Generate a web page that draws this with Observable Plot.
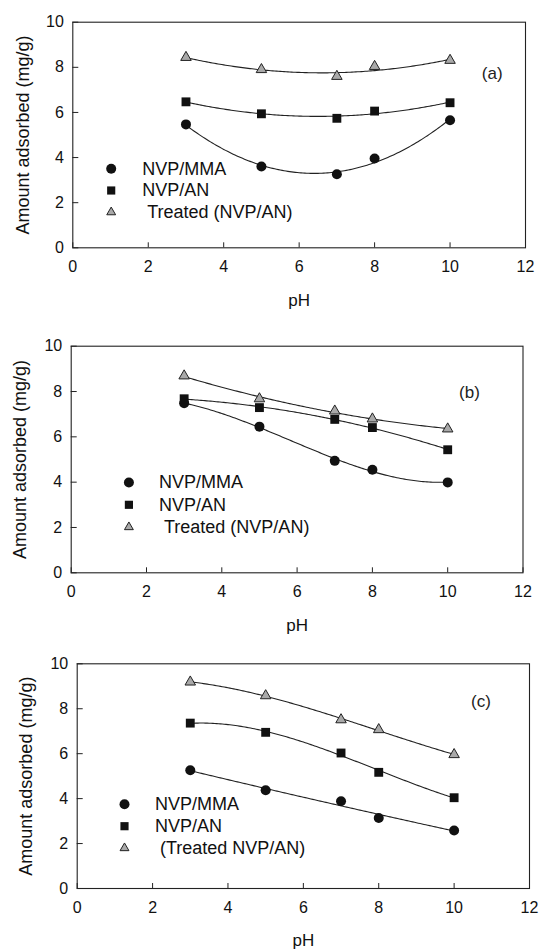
<!DOCTYPE html>
<html><head><meta charset="utf-8">
<script src="https://cdn.jsdelivr.net/npm/d3@7"></script>
<script src="https://cdn.jsdelivr.net/npm/@observablehq/plot@0.6"></script>
<style>
body{margin:0;background:#fff;}
.panel{position:relative;width:542px;height:317px;overflow:hidden;}
.panel svg{display:block;}
</style></head><body>
<div id="pa" class="panel"></div>
<div id="pb" class="panel"></div>
<div id="pc" class="panel"></div>
<script>
// ---- data ----
const pH = [3, 5, 7, 8, 10];
const namesAB = ["NVP/MMA", "NVP/AN", "Treated (NVP/AN)"];
const namesC = ["NVP/MMA", "NVP/AN", "(Treated NVP/AN)"];
const xTicks = [0, 2, 4, 6, 8, 10, 12];
const yTicks = [0, 2, 4, 6, 8, 10];
const panelLabels = ["(a)", "(b)", "(c)"];
const xLabel = "pH";
const yLabel = "Amount adsorbed (mg/g)";

const aMMA = [5.47, 3.60, 3.26, 3.96, 5.65];
const aAN = [6.47, 5.94, 5.74, 6.06, 6.43];
const aTreated = [8.44, 7.90, 7.60, 8.04, 8.31];

const bMMA = [7.48, 6.45, 4.94, 4.55, 3.99];
const bAN = [7.68, 7.29, 6.77, 6.41, 5.43];
const bTreated = [8.69, 7.68, 7.14, 6.79, 6.35];

const cMMA = [5.26, 4.37, 3.88, 3.14, 2.58];
const cAN = [7.36, 6.95, 6.03, 5.17, 4.04];
const cTreated = [9.19, 8.58, 7.51, 7.07, 5.96];

// fitted polynomial degree of each series' trend curve
const fitDegA = [2, 2, 2];
const fitDegB = [3, 2, 2];
const fitDegC = [2, 3, 3];

// ---- least-squares polynomial regression (trend curve) ----
function polyfit(xs, ys, deg) {
  const n = deg + 1;
  const A = Array.from({length: n}, () => new Array(n + 1).fill(0));
  for (let r = 0; r < n; r++) {
    for (let c = 0; c < n; c++) A[r][c] = d3.sum(xs, x => Math.pow(x, r + c));
    A[r][n] = d3.sum(xs, (x, i) => ys[i] * Math.pow(x, r));
  }
  for (let i = 0; i < n; i++) {
    let p = i;
    for (let k = i + 1; k < n; k++) if (Math.abs(A[k][i]) > Math.abs(A[p][i])) p = k;
    [A[i], A[p]] = [A[p], A[i]];
    for (let k = i + 1; k < n; k++) {
      const f = A[k][i] / A[i][i];
      for (let j = i; j <= n; j++) A[k][j] -= f * A[i][j];
    }
  }
  const coef = new Array(n).fill(0);
  for (let i = n - 1; i >= 0; i--) {
    let s = A[i][n];
    for (let j = i + 1; j < n; j++) s -= A[i][j] * coef[j];
    coef[i] = s / A[i][i];
  }
  return x => coef.reduce((acc, c, k) => acc + c * Math.pow(x, k), 0);
}
function trend(xs, ys, deg) {
  const f = polyfit(xs, ys, deg);
  const [lo, hi] = d3.extent(xs);
  return d3.range(0, 141).map(i => { const x = lo + (hi - lo) * i / 140; return {x, y: f(x)}; });
}

const symbols = ["circle", "square", "triangle"];
const fills = ["#111", "#111", "#a9a9a9"];
const radii = [5, 5, 3.9];
const legendRadii = [5, 4.6, 3.3];

function panel(series, names, degs, label, L) {
  const innerW = 542 - L.left - L.right;
  const innerH = 317 - L.top - L.bottom;
  const marks = [
    Plot.frame({stroke: "#222", strokeWidth: 1.1}),
    Plot.tickX(xTicks, {x: d => d, insetTop: innerH - 5, stroke: "#222"}),
    Plot.tickY(yTicks, {y: d => d, insetRight: innerW - 6, stroke: "#222"}),
    Plot.axisX({ticks: xTicks, tickSize: 0, tickPadding: 13, label: null, fontSize: 16}),
    Plot.axisY({ticks: yTicks, tickSize: 0, tickPadding: 9, label: null, fontSize: 16}),
    Plot.text([xLabel], {frameAnchor: "bottom", dy: 52.5, textAnchor: "middle", lineAnchor: "middle", fontSize: 17}),
    Plot.text([yLabel], {frameAnchor: "left", rotate: -90, dx: -L.ytitle, textAnchor: "middle", lineAnchor: "middle", fontSize: 18}),
    Plot.text([label], {frameAnchor: "top-left", dx: L.lx, dy: L.ly, textAnchor: "middle", lineAnchor: "middle", fontSize: 17, fill: "#222"})
  ];
  series.forEach((ys, i) => {
    marks.push(Plot.line(trend(pH, ys, degs[i]), {x: "x", y: "y", stroke: "#222", strokeWidth: 1.1}));
  });
  series.forEach((ys, i) => {
    const pts = pH.map((x, j) => ({x, y: ys[j]}));
    marks.push(Plot.dot(pts, {x: "x", y: "y", symbol: symbols[i], r: radii[i], fill: fills[i],
      stroke: i === 2 ? "#222" : "none", strokeWidth: 1}));
  });
  names.forEach((name, i) => {
    marks.push(Plot.dot([name], {frameAnchor: "top-left", dx: L.sx, dy: L.sy + i * L.gap,
      symbol: symbols[i], r: legendRadii[i], fill: fills[i], stroke: i === 2 ? "#222" : "none", strokeWidth: 1}));
    marks.push(Plot.text([name], {frameAnchor: "top-left", dx: L.tx + (i === 2 ? 5 : 0), dy: L.sy + i * L.gap,
      textAnchor: "start", lineAnchor: "middle", fontSize: 18, fill: "#111"}));
  });
  return Plot.plot({
    width: 542, height: 317,
    marginTop: L.top, marginBottom: L.bottom, marginLeft: L.left, marginRight: L.right,
    x: {domain: [0, 12]},
    y: {domain: [0, 10]},
    style: {fontFamily: "'Liberation Sans', Arial, Helvetica, sans-serif", fontSize: "16px", color: "#111", background: "#fff"},
    marks
  });
}

document.getElementById("pa").append(panel([aMMA, aAN, aTreated], namesAB, fitDegA, panelLabels[0],
  {top: 21.7, bottom: 69.7, left: 72.3, right: 17, sx: 38.4, sy: 146.6, gap: 21.7, tx: 69.4, lx: 419.4, ly: 51, ytitle: 50}));
document.getElementById("pb").append(panel([bMMA, bAN, bTreated], namesAB, fitDegB, panelLabels[1],
  {top: 28.7, bottom: 61.7, left: 70.7, right: 19.5, sx: 57.7, sy: 136.3, gap: 22.3, tx: 87.8, lx: 398.2, ly: 46.7, ytitle: 51}));
document.getElementById("pc").append(panel([cMMA, cAN, cTreated], namesC, fitDegC, panelLabels[2],
  {top: 29.3, bottom: 63, left: 76.7, right: 13, sx: 47.3, sy: 140.5, gap: 21.9, tx: 77.7, lx: 403.7, ly: 38.1, ytitle: 51}));
</script>
</body></html>
